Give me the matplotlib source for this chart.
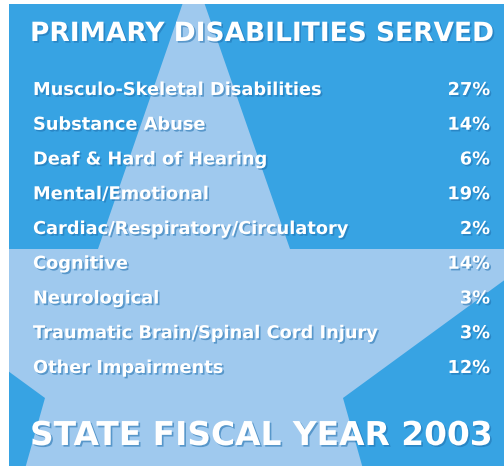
import matplotlib
matplotlib.use("Agg")
import matplotlib.pyplot as plt
from matplotlib.patches import Polygon, Rectangle
import matplotlib.patheffects as pe

# ---- data ----
title = "PRIMARY DISABILITIES SERVED"
footer = "STATE FISCAL YEAR 2003"
categories = [
    "Musculo-Skeletal Disabilities",
    "Substance Abuse",
    "Deaf & Hard of Hearing",
    "Mental/Emotional",
    "Cardiac/Respiratory/Circulatory",
    "Cognitive",
    "Neurological",
    "Traumatic Brain/Spinal Cord Injury",
    "Other Impairments",
]
percents = [27, 14, 6, 19, 2, 14, 3, 3, 12]

# ---- style ----
W, H = 504, 466
BG = "#37a3e3"
STAR = "#9fc9ee"
SHADOW = "#1f6fae"

fig = plt.figure(figsize=(W / 100, H / 100), dpi=100)
fig.patch.set_facecolor("white")
ax = fig.add_axes([0, 0, 1, 1])
ax.set_xlim(0, W)
ax.set_ylim(H, 0)
ax.axis("off")

# panel
ax.add_patch(Rectangle((9, 4), W - 9, H - 4, facecolor=BG, edgecolor="none", zorder=0))

# decorative star (background)
star_pts = [
    (193.5, -28), (290, 249), (547, 249), (343, 398), (400, 600),
    (194, 520), (-12, 600), (45, 398), (-159, 249), (98, 249),
]
star = Polygon(star_pts, closed=True, facecolor=STAR, edgecolor="none", zorder=1)
ax.add_patch(star)
star.set_clip_path(Rectangle((9, 4), W - 9, H - 4, transform=ax.transData))

fx = [pe.withSimplePatchShadow(offset=(1.2, -1.2), shadow_rgbFace=SHADOW, alpha=0.55)]

ax.text(30, 41, title, fontsize=19.05, fontweight="bold", color="white",
        family="DejaVu Sans", ha="left", va="baseline", path_effects=fx, zorder=3)

y0, dy = 95, 34.75
for i, (cat, p) in enumerate(zip(categories, percents)):
    y = y0 + i * dy
    ax.text(33, y, cat, fontsize=12.8, fontweight="bold", color="white",
            family="DejaVu Sans", ha="left", va="baseline", path_effects=fx, zorder=3)
    ax.text(490, y, f"{p}%", fontsize=12.8, fontweight="bold", color="white",
            family="DejaVu Sans", ha="right", va="baseline", path_effects=fx, zorder=3)

ax.text(30, 445, footer, fontsize=23.65, fontweight="bold", color="white",
        family="DejaVu Sans", ha="left", va="baseline", path_effects=fx, zorder=3)

fig.savefig("out.png", dpi=100, facecolor=fig.get_facecolor())
